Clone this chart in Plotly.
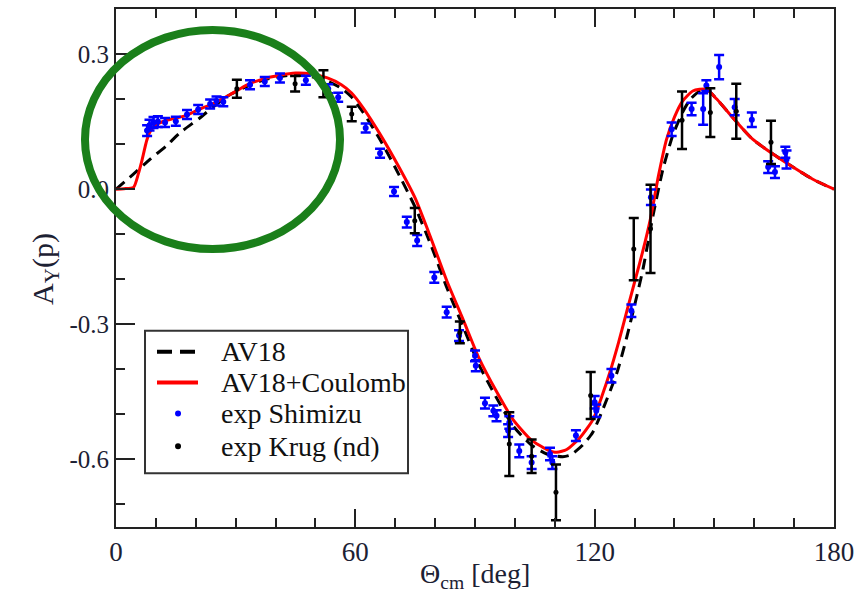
import plotly.graph_objects as go

# --- Faddeev calculations: analysing power A_Y(p) vs c.m. angle ---
theta_av18 = [0, 4.3, 8.5, 12.7, 16, 21, 24.4, 28, 33, 38, 44, 49, 53, 56.5, 59, 62, 66, 70,
              75, 79, 83, 87, 91, 95.5, 99.5, 104, 108, 112, 114, 117, 119.5, 122, 125.6, 128,
              130.6, 132.1, 134.6, 137.1, 139.6, 142, 144, 146.4, 148, 150.6, 155.6, 159.6,
              164.7, 169.7, 174.7, 180]
ay_av18 = [0, 0.033, 0.066, 0.097, 0.125, 0.158, 0.183, 0.207, 0.229, 0.245, 0.253, 0.25,
           0.24, 0.224, 0.205, 0.17, 0.113, 0.048, -0.04, -0.125, -0.22, -0.305, -0.39,
           -0.465, -0.525, -0.567, -0.588, -0.594, -0.59, -0.568, -0.54, -0.49, -0.407, -0.33,
           -0.236, -0.178, -0.06, 0.044, 0.12, 0.17, 0.2, 0.218, 0.222, 0.2, 0.149, 0.111,
           0.078, 0.049, 0.022, 0.0]

theta_coul = [0, 2, 4.4, 5.6, 6.4, 7.7, 8.5, 9.8, 12.7, 17.7, 21.1, 24.4, 29, 33, 37, 41, 45,
              49, 53, 56.5, 59, 62, 66, 71, 75, 79, 83, 87, 91, 95.5, 99.5, 104, 108, 110.5,
              113, 116.3, 119.6, 122, 123.8, 126, 128, 130.5, 132, 134, 136, 138, 140, 142,
              144.6, 148, 150.6, 155.6, 159.6, 164.7, 169.7, 174.7, 180]
ay_coul = [0, 0.001, 0.004, 0.034, 0.06, 0.108, 0.127, 0.142, 0.153, 0.164, 0.178, 0.19,
           0.212, 0.232, 0.245, 0.253, 0.258, 0.256, 0.247, 0.232, 0.214, 0.18, 0.125, 0.048,
           -0.02, -0.11, -0.205, -0.289, -0.375, -0.451, -0.511, -0.556, -0.578, -0.584,
           -0.578, -0.552, -0.511, -0.455, -0.407, -0.34, -0.273, -0.19, -0.14, -0.065, 0.03,
           0.11, 0.16, 0.195, 0.218, 0.222, 0.2, 0.149, 0.111, 0.078, 0.049, 0.022, 0.0]

# --- pd data (Shimizu) ---
theta_shimizu = [7.8, 8.4, 9.4, 10.5, 12.3, 15.0, 17.8, 20.6, 23.6, 25.2, 26.9, 33.6, 37.3,
                 41.1, 47.6, 53.2, 55.7, 62.6, 66.2, 69.7, 72.9, 75.5, 79.8, 82.9, 86.0, 90.0,
                 90.2, 92.5, 94.6, 95.4, 98.3, 98.6, 101.1, 104.2, 108.8, 109.4, 115.3, 120.0,
                 120.4, 124.2, 129.2, 134.1, 139.3, 144.3, 147.2, 148.0, 151.2, 155.1, 159.4,
                 163.5, 165.2, 167.8, 168.1]
ay_shimizu = [0.130, 0.142, 0.148, 0.150, 0.148, 0.151, 0.166, 0.177, 0.189, 0.196, 0.194,
              0.232, 0.239, 0.247, 0.242, 0.223, 0.204, 0.136, 0.080, -0.005, -0.073, -0.114,
              -0.196, -0.273, -0.325, -0.370, -0.392, -0.475, -0.492, -0.503, -0.536, -0.518,
              -0.581, -0.607, -0.588, -0.607, -0.547, -0.473, -0.492, -0.414, -0.270, -0.018,
              0.133, 0.178, 0.178, 0.230, 0.271, 0.182, 0.154, 0.049, 0.038, 0.082, 0.066]
err_shimizu = [0.012, 0.012, 0.012, 0.012, 0.010, 0.010, 0.010, 0.010, 0.010, 0.010, 0.010,
               0.010, 0.010, 0.010, 0.010, 0.010, 0.010, 0.010, 0.010, 0.010, 0.012, 0.012,
               0.012, 0.012, 0.012, 0.012, 0.012, 0.012, 0.012, 0.012, 0.014, 0.014, 0.014,
               0.014, 0.014, 0.014, 0.012, 0.014, 0.014, 0.015, 0.014, 0.017, 0.015, 0.014,
               0.035, 0.012, 0.027, 0.018, 0.016, 0.013, 0.013, 0.012, 0.020]

# --- nd data (Krug) ---
theta_krug = [30.3, 44.9, 52.0, 59.1, 74.9, 86.2, 98.6, 104.2, 110.3, 119.0, 129.8, 134.0,
              141.9, 149.0, 155.5, 164.2]
ay_krug = [0.223, 0.234, 0.234, 0.167, -0.07, -0.318, -0.566, -0.593, -0.673, -0.458, -0.133,
           -0.088, 0.153, 0.170, 0.173, 0.104]
err_krug = [0.020, 0.017, 0.030, 0.016, 0.028, 0.024, 0.071, 0.037, 0.062, 0.052, 0.069,
            0.098, 0.064, 0.054, 0.061, 0.048]

# axis ticks
x_range = [0, 180]
y_range = [-0.75, 0.4]
x_tickvals = [0, 60, 120, 180]
x_ticktext = ["0", "60", "120", "180"]
x_minor = [10, 20, 30, 40, 50, 70, 80, 90, 100, 110, 130, 140, 150, 160, 170]
y_tickvals = [-0.6, -0.3, 0.0, 0.3]
y_ticktext = ["-0.6", "-0.3", "0.0", "0.3"]
y_minor = [-0.7, -0.5, -0.4, -0.2, -0.1, 0.1, 0.2]
y_right = [-0.7, -0.6, -0.5, -0.4, -0.3, -0.2, -0.1, 0.0, 0.1, 0.2, 0.3]

# legend entries: label, kind, colour
legend_labels = ["AV18", "AV18+Coulomb", "exp Shimizu", "exp Krug (nd)"]
legend_kinds = ["dash", "line", "dot", "dot"]
legend_colors = ["black", "#ff0000", "#0000ff", "black"]

SERIF = "Liberation Serif"
TXT = "#1c2133"

fig = go.Figure()
fig.add_trace(go.Scatter(x=theta_av18, y=ay_av18, mode="lines", name=legend_labels[0],
                         line=dict(color="black", width=3, dash="11px,7px", shape="spline",
                                   smoothing=0.6)))
fig.add_trace(go.Scatter(x=theta_coul, y=ay_coul, mode="lines", name=legend_labels[1],
                         line=dict(color="#ff0000", width=3, shape="spline", smoothing=0.6)))
fig.add_trace(go.Scatter(x=theta_shimizu, y=ay_shimizu, mode="markers", name=legend_labels[2],
                         marker=dict(color="#0000ff", size=6),
                         error_y=dict(type="data", array=err_shimizu, color="#0000ff",
                                      thickness=2.5, width=5)))
fig.add_trace(go.Scatter(x=theta_krug, y=ay_krug, mode="markers", name=legend_labels[3],
                         marker=dict(color="black", size=5),
                         error_y=dict(type="data", array=err_krug, color="black",
                                      thickness=2.5, width=5)))

fig.update_layout(
    width=864, height=602,
    margin=dict(l=116, r=30, t=7, b=75),
    plot_bgcolor="white", paper_bgcolor="white",
    font=dict(family=SERIF, size=27, color=TXT),
    showlegend=False,
    xaxis=dict(range=x_range, tickmode="array", tickvals=x_tickvals, ticktext=x_ticktext,
               ticks="inside", ticklen=18, tickwidth=2, tickcolor="#222222",
               minor=dict(tickmode="array", tickvals=x_minor, ticks="inside", ticklen=9,
                          tickwidth=2, tickcolor="#222222", showgrid=False),
               showline=True, linecolor="#222222", linewidth=2, mirror="ticks",
               showgrid=False, zeroline=False,
               tickfont=dict(family=SERIF, size=27, color=TXT)),
    yaxis=dict(range=y_range, tickmode="array", tickvals=y_tickvals, ticktext=y_ticktext,
               ticks="inside", ticklen=19, tickwidth=2, tickcolor="#222222",
               minor=dict(tickmode="array", tickvals=y_minor, ticks="inside", ticklen=9,
                          tickwidth=2, tickcolor="#222222", showgrid=False),
               showline=True, linecolor="#222222", linewidth=2, mirror=True,
               showgrid=False, zeroline=False,
               tickfont=dict(family=SERIF, size=25, color=TXT)),
    yaxis2=dict(range=y_range, overlaying="y", side="right", tickmode="array",
                tickvals=y_right, ticks="inside", ticklen=20, tickwidth=2,
                tickcolor="#222222", showticklabels=False, showline=False,
                showgrid=False, zeroline=False),
)

# axis titles
fig.add_annotation(text="A<sub>Y</sub>(p)", xref="paper", yref="paper", x=-0.099, y=0.498,
                   showarrow=False, textangle=-90, font=dict(family=SERIF, size=30, color=TXT),
                   xanchor="center", yanchor="middle")
fig.add_annotation(text="Θ<sub>cm</sub> [deg]", xref="paper", yref="paper", x=0.5, y=-0.094,
                   showarrow=False, font=dict(family=SERIF, size=28, color=TXT),
                   xanchor="center", yanchor="middle")

# legend box, drawn in paper coordinates with tight row spacing
box_x0, box_x1, box_y0, box_y1 = 0.0404, 0.4067, 0.1038, 0.3788
row_y = [0.3385, 0.2788, 0.2192, 0.1558]
key_x0, key_x1, key_xc, text_x = 0.0571, 0.1142, 0.0864, 0.1435
fig.add_shape(type="rect", xref="paper", yref="paper", x0=box_x0, x1=box_x1,
              y0=box_y0, y1=box_y1, line=dict(color="#333333", width=2),
              fillcolor="white", layer="above")
for label, kind, color, yy in zip(legend_labels, legend_kinds, legend_colors, row_y):
    if kind == "dot":
        rx, ry = 3.0 / 718, 3.0 / 520
        fig.add_shape(type="circle", xref="paper", yref="paper",
                      x0=key_xc - rx, x1=key_xc + rx, y0=yy - ry, y1=yy + ry,
                      line=dict(color=color, width=0), fillcolor=color, layer="above")
    else:
        fig.add_shape(type="line", xref="paper", yref="paper",
                      x0=key_x0, x1=key_x1, y0=yy, y1=yy, layer="above",
                      line=dict(color=color, width=4,
                                dash="15px,8px" if kind == "dash" else "solid"))
    fig.add_annotation(text=label, xref="paper", yref="paper", x=text_x, y=yy,
                       xanchor="left", yanchor="middle", showarrow=False,
                       font=dict(family=SERIF, size=28, color="#111111"))

# highlight ring around the forward-angle region
fig.add_shape(type="circle", xref="paper", yref="paper",
              x0=-0.0432, x1=0.312, y0=0.5365, y1=0.9596,
              line=dict(color="#1a7f1a", width=8), layer="above")

fig.write_html("out.html")
